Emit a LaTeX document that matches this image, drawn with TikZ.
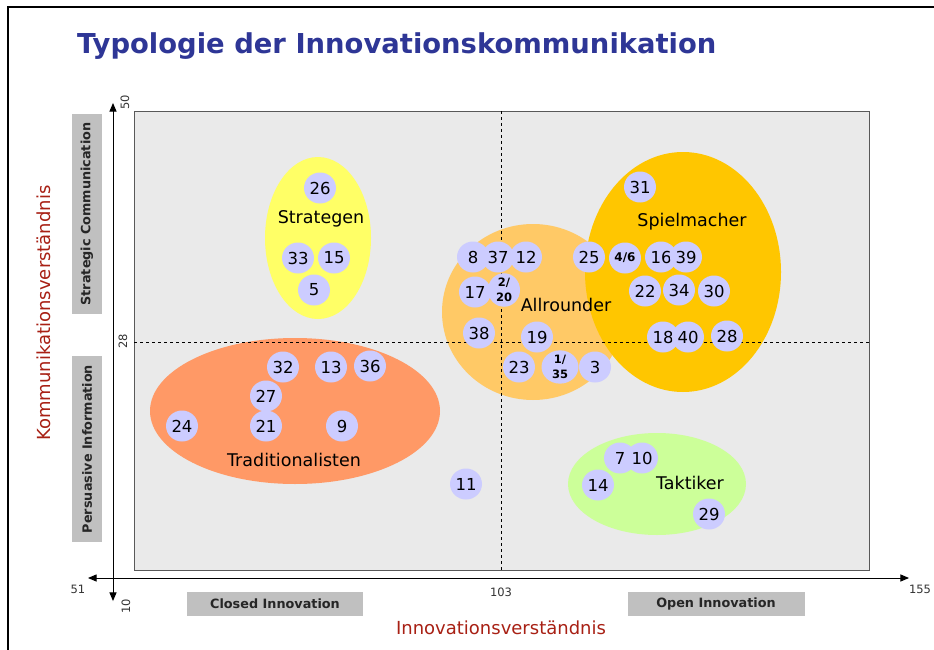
\documentclass[tikz,border=0pt]{standalone}
\usepackage{fontspec}
\setmainfont{DejaVu Sans}
\usepackage{xcolor}
\usetikzlibrary{arrows}

\definecolor{plotgray}{HTML}{EAEAEA}
\definecolor{boxgray}{HTML}{C0C0C0}
\definecolor{titleblue}{RGB}{46,54,150}
\definecolor{axisred}{RGB}{168,32,20}
\definecolor{bubble}{HTML}{CCCCFF}
\definecolor{stratcol}{HTML}{FFFF66}
\definecolor{tradcol}{HTML}{FF9966}
\definecolor{allcol}{HTML}{FFC966}
\definecolor{spielcol}{HTML}{FFC600}
\definecolor{taktcol}{HTML}{CCFF99}

\tikzset{
  bub/.style={fill=bubble,ellipse,minimum width=32pt,minimum height=31pt,inner sep=0pt,font=\fontsize{16.5}{16.5}\selectfont},
  smallbub/.style={bub,font=\fontsize{11.5}{15}\selectfont\bfseries,align=center},
  grouplabel/.style={font=\fontsize{17.5}{17.5}\selectfont},
  ticklabel/.style={font=\fontsize{11.5}{11.5}\selectfont,text=black!80},
  sidebox/.style={fill=boxgray,inner sep=0pt,font=\fontsize{12.8}{12.8}\selectfont\bfseries,text=black!85},
  axislabel/.style={font=\fontsize{18}{18}\selectfont,text=axisred}
}
\usetikzlibrary{shapes.geometric}

\begin{document}
\begin{tikzpicture}[x=1pt,y=-1pt]
    \useasboundingbox (0,0) rectangle (934,650);
    \fill[white] (0,0) rectangle (934,650);
    \draw[line width=2.2pt] (8,650) -- (8,7) -- (934,7);

    \node[anchor=base west,font=\fontsize{27.4}{27.4}\selectfont\bfseries,text=titleblue,inner sep=0pt] (title) at (77,54) {Typologie der Innovationskommunikation};

    \draw[fill=plotgray,draw=black!65,line width=0.8pt] (134,111) rectangle (869,570);

    \fill[stratcol] (318,238) ellipse [x radius=53pt,y radius=81pt];
    \fill[tradcol] (295,411) ellipse [x radius=145pt,y radius=73pt];
    \fill[allcol] (533,312) ellipse [x radius=91pt,y radius=88pt];
    \fill[spielcol] (683,272) ellipse [x radius=98pt,y radius=120pt];
    \fill[taktcol] (657,484) ellipse [x radius=89pt,y radius=51pt];

    \coordinate (vtop) at (501,111);
    \coordinate (vbot) at (501,570);
    \coordinate (hleft) at (134,342);
    \coordinate (hright) at (869,342);
    \draw[dashed,line width=0.6pt] (vtop) -- (vbot);
    \draw[dashed,line width=0.6pt] (hleft) -- (hright);

    \node[grouplabel] (strat) at (321,219) {Strategen};
    \node[grouplabel] (spiel) at (692,222) {Spielmacher};
    \node[grouplabel] (allr) at (566,305) {Allrounder};
    \node[grouplabel] (trad) at (294,460) {Traditionalisten};
    \node[grouplabel] (takt) at (690,483) {Taktiker};

    \node[bub] (n26) at (320,188) {26};
    \node[bub] (n33) at (298,258) {33};
    \node[bub] (n15) at (334,258) {15};
    \node[bub] (n5) at (314,290) {5};

    \node[bub] (n32) at (283,367) {32};
    \node[bub] (n13) at (331,367) {13};
    \node[bub] (n36) at (370,366) {36};
    \node[bub] (n27) at (266,396) {27};
    \node[bub] (n24) at (182,426) {24};
    \node[bub] (n21) at (266,426) {21};
    \node[bub] (n9) at (342,426) {9};
    \node[bub] (n11) at (466,484) {11};

    \node[bub] (n8) at (473,257) {8};
    \node[bub] (n37) at (498,257) {37};
    \node[bub] (n12) at (526,257) {12};
    \node[bub] (n17) at (475,292) {17};
    \node[smallbub] (n2) at (504,290) {2/\\20};
    \node[bub] (n38) at (479,333) {38};
    \node[bub] (n19) at (537,337) {19};
    \node[bub] (n23) at (519,367) {23};
    \node[smallbub,minimum width=37pt,minimum height=33pt] (n1) at (560,367) {1/\\35};
    \node[bub] (n3) at (595,367) {3};

    \node[bub] (n31) at (640,187) {31};
    \node[bub] (n25) at (589,257) {25};
    \node[smallbub,font=\fontsize{12}{12}\selectfont\bfseries] (n4) at (625,258) {4/6};
    \node[bub] (n16) at (661,257) {16};
    \node[bub] (n39) at (686,257) {39};
    \node[bub] (n22) at (645,291) {22};
    \node[bub] (n34) at (679,290) {34};
    \node[bub] (n30) at (714,291) {30};
    \node[bub] (n18) at (663,337) {18};
    \node[bub] (n40) at (688,337) {40};
    \node[bub] (n28) at (727,336) {28};

    \node[bub] (n7) at (620,458) {7};
    \node[bub] (n10) at (642,458) {10};
    \node[bub] (n14) at (598,485) {14};
    \node[bub] (n29) at (709,514) {29};

    \coordinate (xl) at (88,578);
    \coordinate (xr) at (909,578);
    \coordinate (yt) at (113,103);
    \coordinate (yb) at (113,601);
    \draw[triangle 45-triangle 45,line width=1pt] (xl) -- (xr);
    \draw[triangle 45-triangle 45,line width=1pt] (yt) -- (yb);

    \node[ticklabel] (t51) at (78,589) {51};
    \node[ticklabel] (t103) at (501,592) {103};
    \node[ticklabel] (t155) at (920,589) {155};
    \node[ticklabel,rotate=90] (t50) at (125,102) {50};
    \node[ticklabel,rotate=90] (t28) at (123,341) {28};
    \node[ticklabel,rotate=90] (t10) at (126,606) {10};

    \node[sidebox,minimum width=176pt,minimum height=24pt] (closed) at (275,604) {Closed Innovation};
    \node[sidebox,minimum width=177pt,minimum height=24pt] (open) at (716,604) {Open Innovation};
    \node[sidebox,rotate=90,minimum width=200pt,minimum height=30pt] (stratcom) at (87,214) {Strategic Communication};
    \node[sidebox,rotate=90,minimum width=186pt,minimum height=30pt] (persinf) at (87,449) {Persuasive Information};

    \node[axislabel] (xlab) at (501,628) {Innovationsverständnis};
    \node[axislabel,rotate=90] (ylab) at (44,313) {Kommunikationsverständnis};
\end{tikzpicture}
\end{document}
